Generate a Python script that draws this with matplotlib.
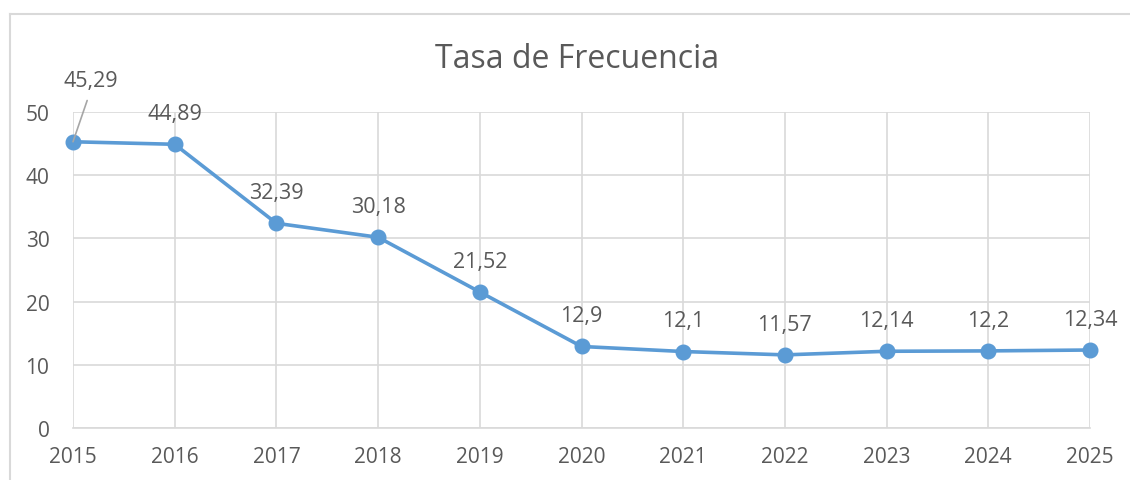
import matplotlib
matplotlib.use("Agg")
import matplotlib.pyplot as plt
from matplotlib.lines import Line2D

years = [2015, 2016, 2017, 2018, 2019, 2020, 2021, 2022, 2023, 2024, 2025]
values = [45.29, 44.89, 32.39, 30.18, 21.52, 12.9, 12.1, 11.57, 12.14, 12.2, 12.34]
labels = ["45,29", "44,89", "32,39", "30,18", "21,52", "12,9", "12,1", "11,57", "12,14", "12,2", "12,34"]
yticks = [0, 10, 20, 30, 40, 50]
title = "Tasa de Frecuencia"

plt.rcParams['font.family'] = ['Open Sans', 'DejaVu Sans']
txt = '#595959'
grid = '#D9D9D9'
blue = '#5B9BD5'

fig = plt.figure(figsize=(11.3, 4.81), dpi=100)
ax = fig.add_axes([73/1130, 1-429/481, (1090-73)/1130, (429-113)/481])

ax.set_xlim(years[0], years[-1])
ax.set_ylim(0, 50)
ax.set_yticks(yticks)
ax.set_xticks(years)
ax.set_xticklabels([str(y) for y in years])
ax.grid(True, color=grid, linewidth=1.2)
ax.set_axisbelow(True)
for s in ax.spines.values():
    s.set_visible(False)
ax.spines['bottom'].set_visible(True)
ax.spines['bottom'].set_color(grid)
ax.spines['bottom'].set_linewidth(1.2)
ax.tick_params(length=0, labelsize=15, labelcolor=txt)
ax.tick_params(axis='y', pad=17)
ax.tick_params(axis='x', pad=13)

ax.plot(years, values, color=blue, linewidth=2.6, marker='o', markersize=10.5,
        clip_on=False, zorder=3)

for i, (x, v, lab) in enumerate(zip(years, values, labels)):
    if i == 0:
        ax.annotate(lab, xy=(x, v), xytext=(12.5, 44), textcoords='offset points',
                    ha='center', va='center', fontsize=15.5, color=txt,
                    arrowprops=dict(arrowstyle='-', color='#A6A6A6', lw=1.2,
                                    relpos=(0.5, 0.0), shrinkA=5, shrinkB=0),
                    zorder=4)
    else:
        ax.annotate(lab, xy=(x, v), xytext=(0, 22), textcoords='offset points',
                    ha='center', va='center', fontsize=15.5, color=txt, zorder=4)

fig.text(577/1130, 1-60/481, title, ha='center', va='center', fontsize=23, color=txt)

fig.add_artist(Line2D([9.5/1130, 1], [1-14.5/481, 1-14.5/481], color=grid, lw=1.5,
                      transform=fig.transFigure))
fig.add_artist(Line2D([9.5/1130, 9.5/1130], [0, 1-14.5/481], color=grid, lw=1.5,
                      transform=fig.transFigure))

fig.savefig("out.png", dpi=100, facecolor='white')
